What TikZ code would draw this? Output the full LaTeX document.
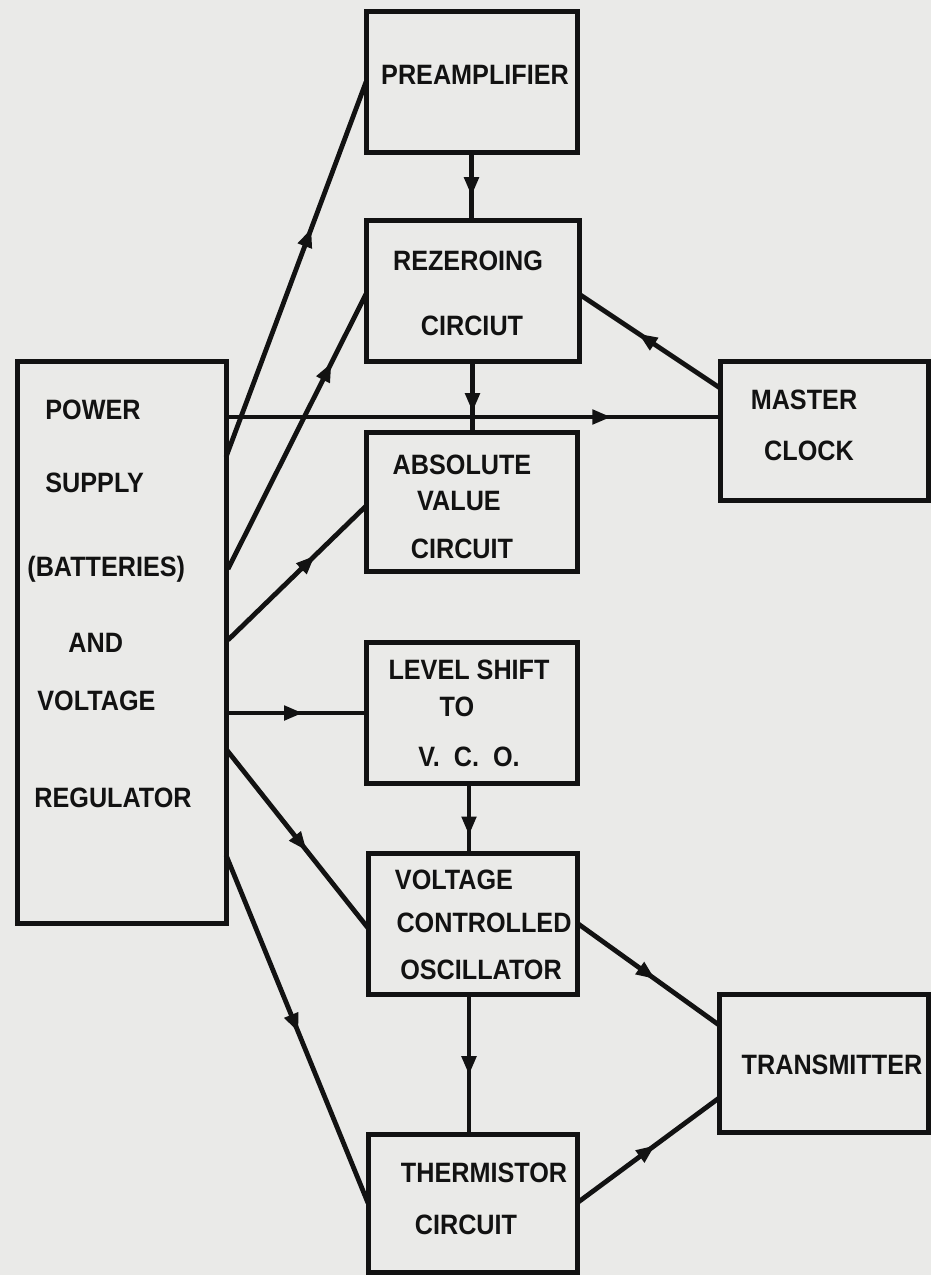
\documentclass[tikz,border=0pt]{standalone}
\usepackage{fontspec}
\setmainfont{Liberation Sans}[FakeStretch=0.9]
\usetikzlibrary{arrows.meta,decorations.markings,calc}
\definecolor{paper}{RGB}{234,234,232}
\definecolor{ink}{RGB}{18,18,18}
\tikzset{
  blk/.style={draw=ink,line width=2.5pt,inner sep=0pt,outer sep=0pt,rectangle},
  lbl/.style={text=ink,font=\bfseries\fontsize{14}{16}\selectfont,inner sep=0pt},
  wire/.style={draw=ink,line width=2.4pt},
  midarr/.style={postaction={decorate},decoration={markings,
     mark=at position #1 with {\arrow{Triangle[length=9.5pt,width=7pt]}}}}
}
\begin{document}
\begin{tikzpicture}[x=0.5pt,y=-0.5pt]
\fill[paper] (0,0) rectangle (931,1275);
\useasboundingbox (0,0) rectangle (931,1275);
% boxes
\node[blk,minimum width=105.5pt,minimum height=70.5pt] (pre) at (471.5,81.5) {};
\node[blk,minimum width=106.5pt,minimum height=70.5pt] (rez) at (472.5,290.5) {};
\node[blk,minimum width=105.5pt,minimum height=69.5pt] (abs) at (471.5,501.5) {};
\node[blk,minimum width=105.5pt,minimum height=70.5pt] (lvl) at (471.5,712.5) {};
\node[blk,minimum width=104.5pt,minimum height=70.5pt] (vco) at (472.5,923.5) {};
\node[blk,minimum width=104.5pt,minimum height=69pt] (thm) at (472.5,1203) {};
\node[blk,minimum width=104.5pt,minimum height=281pt] (pwr) at (121.5,642) {};
\node[blk,minimum width=104pt,minimum height=69.5pt] (mc) at (824,430.5) {};
\node[blk,minimum width=104.5pt,minimum height=69pt] (tx) at (823.5,1063) {};
% labels
\node[lbl] (tpre) at (475,75) {PREAMPLIFIER};
\node[lbl] (trez1) at (468,261) {REZEROING};
\node[lbl] (trez2) at (472,326) {CIRCIUT};
\node[lbl] (tmc1) at (804,400) {MASTER};
\node[lbl] (tmc2) at (809,451) {CLOCK};
\node[lbl] (tabs1) at (462,465) {ABSOLUTE};
\node[lbl] (tabs2) at (459,501) {VALUE};
\node[lbl] (tabs3) at (462,549) {CIRCUIT};
\node[lbl] (tlvl1) at (469,670) {LEVEL SHIFT};
\node[lbl] (tlvl2) at (457,707) {TO};
\node[lbl] (tlvl3) at (469,757) {V.\ \ C.\ \ O.};
\node[lbl] (tvco1) at (454,880) {VOLTAGE};
\node[lbl] (tvco2) at (484,923) {CONTROLLED};
\node[lbl] (tvco3) at (481,970) {OSCILLATOR};
\node[lbl] (ttx) at (832,1065) {TRANSMITTER};
\node[lbl] (tthm1) at (484,1173) {THERMISTOR};
\node[lbl] (tthm2) at (466,1225) {CIRCUIT};
\node[lbl,anchor=west] (tp1) at (45,410) {POWER};
\node[lbl,anchor=west] (tp2) at (45,483) {SUPPLY};
\node[lbl,anchor=west] (tp3) at (27,569) {(BATTERIES)};
\node[lbl,anchor=west] (tp4) at (68,643) {AND};
\node[lbl,anchor=west] (tp5) at (37,701) {VOLTAGE};
\node[lbl,anchor=west] (tp6) at (34,798) {REGULATOR};
% vertical chain
\draw[wire,midarr=0.65] (pre.south) -- (pre.south |- rez.north);
\draw[wire,midarr=0.72] (rez.south) -- (rez.south |- abs.north);
\draw[wire,midarr=0.75] ([xshift=-1.25pt]lvl.south) -- ([xshift=-1.25pt]lvl.south |- vco.north);
\draw[wire,midarr=0.58] ([xshift=-1.75pt]vco.south) -- ([xshift=-1.75pt]vco.south |- thm.north);
% power connections
\draw[wire,midarr=0.61] ($(pwr.north east)+(0,96)$) -- ($(pre.north west)+(0,71)$);
\draw[wire,midarr=0.75] ($(pwr.north east)+(2,208)$) -- ($(rez.north west)+(0,74)$);
\draw[wire,midarr=0.63] ($(pwr.north east)+(2,279)$) -- ($(abs.north west)+(0,74)$);
\draw[wire,midarr=0.78] ($(pwr.north east)+(0,56)$) -- ($(mc.north west)+(0,56)$);
\draw[wire,midarr=0.55] ($(pwr.north east)+(0,352)$) -- ($(lvl.north west)+(0,71)$);
\draw[wire,midarr=0.57] ($(pwr.north east)+(0,388)$) -- ($(vco.north west)+(0,75)$);
\draw[wire,midarr=0.51] ($(pwr.north east)+(0,494)$) -- ($(thm.north west)+(0,69)$);
% master clock to rezeroing
\draw[wire,midarr=0.58] ($(mc.north west)+(0,27)$) -- ($(rez.north east)+(0,74)$);
% to transmitter
\draw[wire,midarr=0.55] ($(vco.north east)+(0,70)$) -- ($(tx.north west)+(0,31)$);
\draw[wire,midarr=0.55] ($(thm.north east)+(0,69)$) -- ($(tx.north west)+(0,104)$);
\end{tikzpicture}
\end{document}
